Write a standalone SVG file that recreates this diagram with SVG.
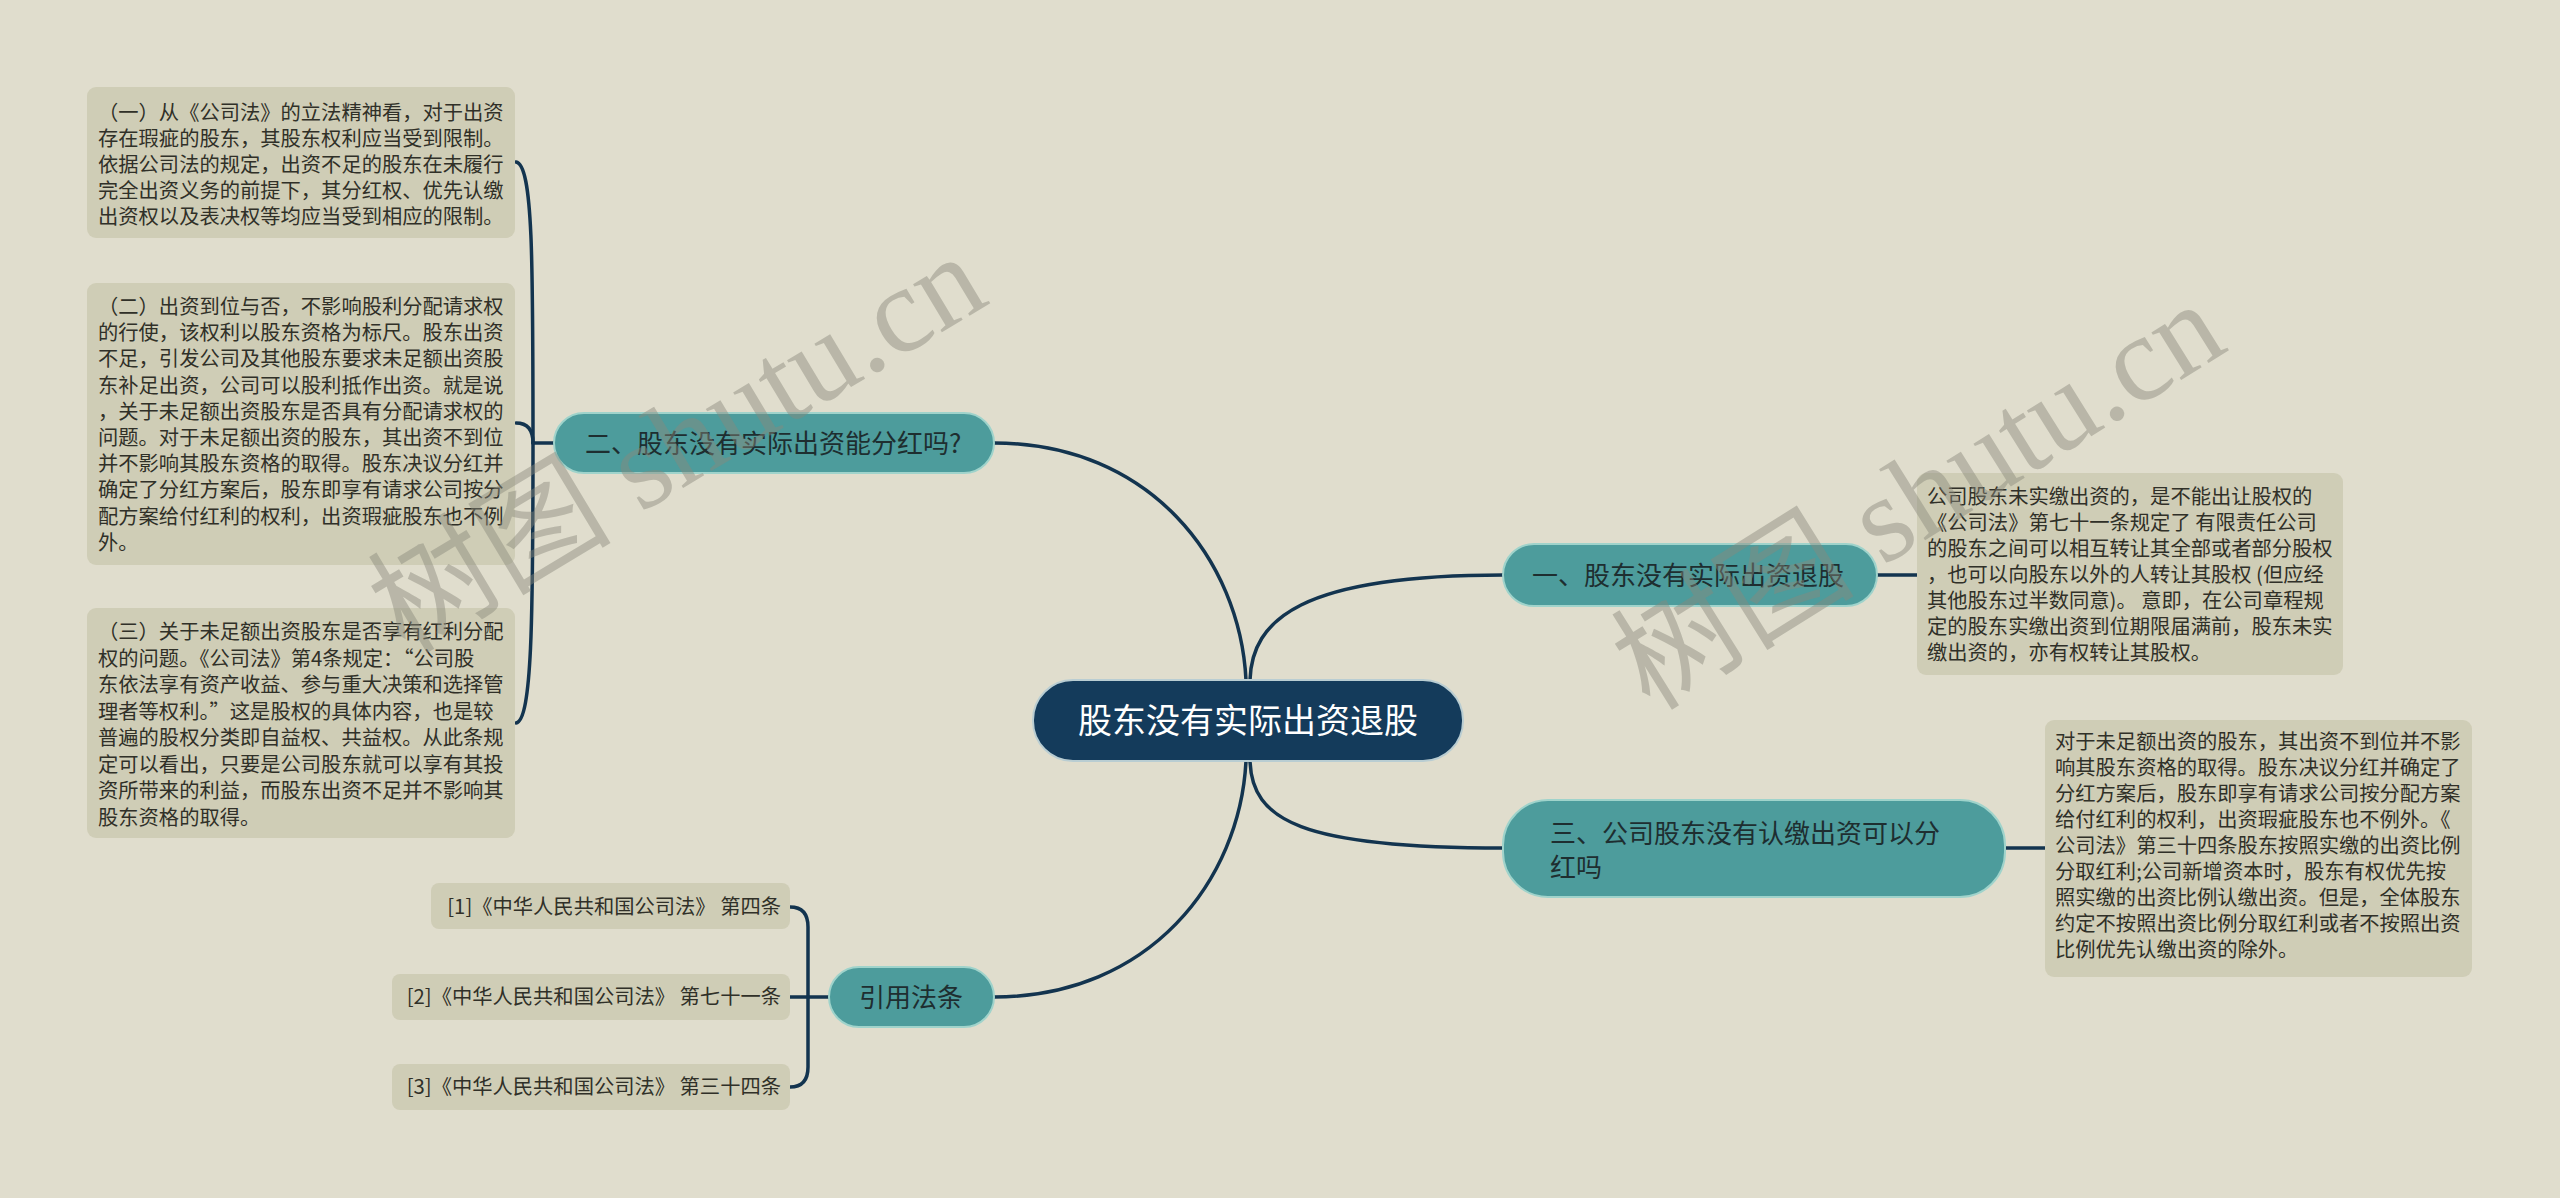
<svg xmlns="http://www.w3.org/2000/svg" width="2560" height="1198" viewBox="0 0 2560 1198">
<style>
.bg{fill:#e0ddcd}
.box{fill:#cfcdb6}
.bt{font-family:"Noto Sans CJK SC","Noto Sans",sans-serif;font-size:20.3px;fill:#303028}
.teal{fill:#4d9c9c;stroke:#9fd3cb;stroke-width:2}
.tt{font-family:"Noto Sans CJK SC","Noto Sans",sans-serif;font-size:26px;fill:#1e2e30}
.root{fill:#143b5b;stroke:#b9cdd2;stroke-width:2}
.rt{font-family:"Noto Sans CJK SC","Noto Sans",sans-serif;font-size:34px;fill:#ffffff}
.ln{fill:none;stroke:#13344f;stroke-width:3.5;stroke-linecap:round}
.wm{font-family:"Liberation Serif","Noto Sans CJK SC",serif;font-size:122px;fill:#8a897c;opacity:0.45}
</style>
<rect class="bg" x="0" y="0" width="2560" height="1198"/>

<g id="connectors">
<path class="ln" d="M1246 680 C1240 560 1150 443 994 443"/>
<path class="ln" d="M1250 680 C1252 620 1300 575 1503 575"/>
<path class="ln" d="M1250 761 C1252 820 1300 848 1503 848"/>
<path class="ln" d="M1246 761 C1240 880 1150 997 994 997"/>
<path class="ln" d="M554 443 H533"/>
<path class="ln" d="M533 443 C533 260 533 165 516 162"/>
<path class="ln" d="M533 443 C533 430 528 423 516 423"/>
<path class="ln" d="M533 443 C533 620 532 720 516 723"/>
<path class="ln" d="M1877 575 H1917"/>
<path class="ln" d="M2005 848 H2045"/>
<path class="ln" d="M829 997 H790"/>
<path class="ln" d="M808 997 V927 Q808 907 790 907"/>
<path class="ln" d="M808 997 V1067 Q808 1087 790 1087"/>
</g>

<g id="root">
<rect class="root" x="1033" y="680" width="430" height="81" rx="40"/>
<text class="rt" x="1248" y="733" text-anchor="middle">股东没有实际出资退股</text>
</g>

<g id="n2">
<rect class="teal" x="554" y="413" width="440" height="60" rx="30"/>
<text class="tt" x="585" y="453">二、股东没有实际出资能分红吗?</text>
</g>

<g id="n1">
<rect class="teal" x="1503" y="544" width="374" height="62" rx="31"/>
<text class="tt" x="1532" y="585">一、股东没有实际出资退股</text>
</g>

<g id="n3">
<rect class="teal" x="1503" y="800" width="502" height="97" rx="45"/>
<text class="tt" x="1550" y="843">三、公司股东没有认缴出资可以分</text>
<text class="tt" x="1550" y="877">红吗</text>
</g>

<g id="n4">
<rect class="teal" x="829" y="967" width="165" height="60" rx="30"/>
<text class="tt" x="911" y="1007" text-anchor="middle">引用法条</text>
</g>

<g id="b1">
<rect class="box" x="87" y="87" width="428" height="151" rx="9"/>
<text class="bt">
<tspan x="98" y="120">（一）从《公司法》的立法精神看，对于出资</tspan>
<tspan x="98" y="146">存在瑕疵的股东，其股东权利应当受到限制。</tspan>
<tspan x="98" y="172">依据公司法的规定，出资不足的股东在未履行</tspan>
<tspan x="98" y="198">完全出资义务的前提下，其分红权、优先认缴</tspan>
<tspan x="98" y="224">出资权以及表决权等均应当受到相应的限制。</tspan>
</text>
</g>

<g id="b2">
<rect class="box" x="87" y="283" width="428" height="282" rx="9"/>
<text class="bt">
<tspan x="98" y="314">（二）出资到位与否，不影响股利分配请求权</tspan>
<tspan x="98" y="340.2">的行使，该权利以股东资格为标尺。股东出资</tspan>
<tspan x="98" y="366.4">不足，引发公司及其他股东要求未足额出资股</tspan>
<tspan x="98" y="392.6">东补足出资，公司可以股利抵作出资。就是说</tspan>
<tspan x="98" y="418.8">，关于未足额出资股东是否具有分配请求权的</tspan>
<tspan x="98" y="445">问题。对于未足额出资的股东，其出资不到位</tspan>
<tspan x="98" y="471.2">并不影响其股东资格的取得。股东决议分红并</tspan>
<tspan x="98" y="497.4">确定了分红方案后，股东即享有请求公司按分</tspan>
<tspan x="98" y="523.6">配方案给付红利的权利，出资瑕疵股东也不例</tspan>
<tspan x="98" y="549.8">外。</tspan>
</text>
</g>

<g id="b3">
<rect class="box" x="87" y="608" width="428" height="230" rx="9"/>
<text class="bt">
<tspan x="98" y="639">（三）关于未足额出资股东是否享有红利分配</tspan>
<tspan x="98" y="665.5">权的问题。《公司法》第4条规定：“公司股</tspan>
<tspan x="98" y="692">东依法享有资产收益、参与重大决策和选择管</tspan>
<tspan x="98" y="718.5">理者等权利。”这是股权的具体内容，也是较</tspan>
<tspan x="98" y="745">普遍的股权分类即自益权、共益权。从此条规</tspan>
<tspan x="98" y="771.5">定可以看出，只要是公司股东就可以享有其投</tspan>
<tspan x="98" y="798">资所带来的利益，而股东出资不足并不影响其</tspan>
<tspan x="98" y="824.5">股东资格的取得。</tspan>
</text>
</g>

<g id="r1">
<rect class="box" x="1917" y="473" width="426" height="202" rx="9"/>
<text class="bt">
<tspan x="1927" y="504">公司股东未实缴出资的，是不能出让股权的</tspan>
<tspan x="1927" y="530">《公司法》第七十一条规定了 有限责任公司</tspan>
<tspan x="1927" y="556">的股东之间可以相互转让其全部或者部分股权</tspan>
<tspan x="1927" y="582">，也可以向股东以外的人转让其股权 (但应经</tspan>
<tspan x="1927" y="608">其他股东过半数同意)。 意即，在公司章程规</tspan>
<tspan x="1927" y="634">定的股东实缴出资到位期限届满前，股东未实</tspan>
<tspan x="1927" y="660">缴出资的，亦有权转让其股权。</tspan>
</text>
</g>

<g id="r2">
<rect class="box" x="2045" y="720" width="427" height="257" rx="9"/>
<text class="bt">
<tspan x="2055" y="749">对于未足额出资的股东，其出资不到位并不影</tspan>
<tspan x="2055" y="775">响其股东资格的取得。股东决议分红并确定了</tspan>
<tspan x="2055" y="801">分红方案后，股东即享有请求公司按分配方案</tspan>
<tspan x="2055" y="827">给付红利的权利，出资瑕疵股东也不例外。《</tspan>
<tspan x="2055" y="853">公司法》第三十四条股东按照实缴的出资比例</tspan>
<tspan x="2055" y="879">分取红利;公司新增资本时，股东有权优先按</tspan>
<tspan x="2055" y="905">照实缴的出资比例认缴出资。但是，全体股东</tspan>
<tspan x="2055" y="931">约定不按照出资比例分取红利或者不按照出资</tspan>
<tspan x="2055" y="957">比例优先认缴出资的除外。</tspan>
</text>
</g>

<g id="c1">
<rect class="box" x="431" y="883" width="359" height="46" rx="8"/>
<text class="bt" x="781" y="914" text-anchor="end">[1]《中华人民共和国公司法》 第四条</text>
</g>
<g id="c2">
<rect class="box" x="392" y="974" width="398" height="46" rx="8"/>
<text class="bt" x="781" y="1004" text-anchor="end">[2]《中华人民共和国公司法》 第七十一条</text>
</g>
<g id="c3">
<rect class="box" x="392" y="1064" width="398" height="46" rx="8"/>
<text class="bt" x="781" y="1094" text-anchor="end">[3]《中华人民共和国公司法》 第三十四条</text>
</g>

<g id="watermarks">
<text class="wm" transform="translate(405 655) rotate(-31)">树图 shutu.cn</text>
<text class="wm" transform="translate(1650 712) rotate(-32)">树图 shutu.cn</text>
</g>
</svg>
